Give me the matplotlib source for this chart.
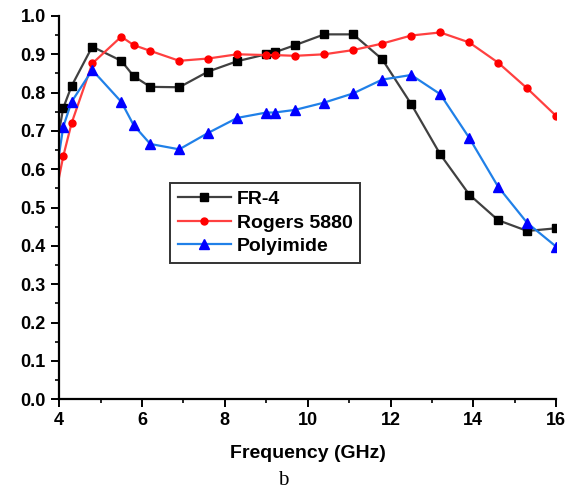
import numpy as np
import matplotlib.pyplot as plt
from matplotlib.ticker import MultipleLocator

plt.rcParams["font.family"] = ["Liberation Sans", "DejaVu Sans"]

# Frequency points (GHz); first point only starts the line at the axis
freq = [4.0, 4.1, 4.3, 4.8, 5.5, 5.8, 6.2, 6.9, 7.6, 8.3, 9.0, 9.2, 9.7,
        10.4, 11.1, 11.8, 12.5, 13.2, 13.9, 14.6, 15.3, 16.0]

fr4 = [0.70, 0.76, 0.817, 0.92, 0.883, 0.843, 0.815, 0.814, 0.855, 0.882,
       0.90, 0.905, 0.924, 0.952, 0.952, 0.887, 0.770, 0.639, 0.534, 0.467,
       0.439, 0.446]
rogers = [0.58, 0.634, 0.72, 0.876, 0.946, 0.924, 0.909, 0.883, 0.889, 0.90,
          0.898, 0.898, 0.896, 0.90, 0.911, 0.928, 0.949, 0.957, 0.931, 0.878,
          0.811, 0.739]
polyimide = [0.64, 0.711, 0.776, 0.859, 0.776, 0.715, 0.666, 0.652, 0.695,
             0.734, 0.748, 0.748, 0.755, 0.774, 0.798, 0.834, 0.846, 0.796,
             0.682, 0.554, 0.46, 0.398]

fig = plt.figure(figsize=(5.74, 4.99), dpi=100)
ax = fig.add_axes([0.103, 0.200, 0.866, 0.768])

marks = list(range(1, len(freq)))
ax.plot(freq, fr4, color="#404040", lw=1.6, marker="s", ms=6,
        mfc="black", mec="black", markevery=marks, label="FR-4")
ax.plot(freq, rogers, color="#ff4040", lw=1.6, marker="o", ms=5,
        mfc="red", mec="red", markevery=marks, label="Rogers 5880")
ax.plot(freq, polyimide, color="#2080e8", lw=1.6, marker="^", ms=7,
        mfc="blue", mec="blue", markevery=marks, label="Polyimide")

ax.set_xlim(4, 16)
ax.set_ylim(0, 1.0)
ax.xaxis.set_major_locator(MultipleLocator(2))
ax.xaxis.set_minor_locator(MultipleLocator(1))
ax.yaxis.set_major_locator(MultipleLocator(0.1))
ax.yaxis.set_minor_locator(MultipleLocator(0.05))
ax.yaxis.set_major_formatter(plt.FormatStrFormatter("%.1f"))

for s in ["top", "right"]:
    ax.spines[s].set_visible(False)
for s in ["left", "bottom"]:
    ax.spines[s].set_linewidth(1.6)

ax.tick_params(which="major", direction="out", length=6, width=1.4,
               labelsize=13)
ax.tick_params(which="minor", direction="out", length=3, width=1.2)
for lab in ax.get_xticklabels() + ax.get_yticklabels():
    lab.set_fontweight("bold")

ax.set_xlabel("Frequency (GHz)", fontsize=14, fontweight="bold",
              labelpad=11)

leg = ax.legend(loc="upper left", bbox_to_anchor=(0.224, 0.565),
                prop={"weight": "bold", "size": 14}, frameon=True,
                fancybox=False, edgecolor="black", handlelength=2.7,
                handletextpad=0.3, borderpad=0.4, labelspacing=0.3,
                borderaxespad=0)
leg.get_frame().set_linewidth(1.4)

fig.text(0.493, 0.028, "b", fontsize=15, family="Liberation Serif",
         ha="center")

fig.savefig("out.png", dpi=100)
